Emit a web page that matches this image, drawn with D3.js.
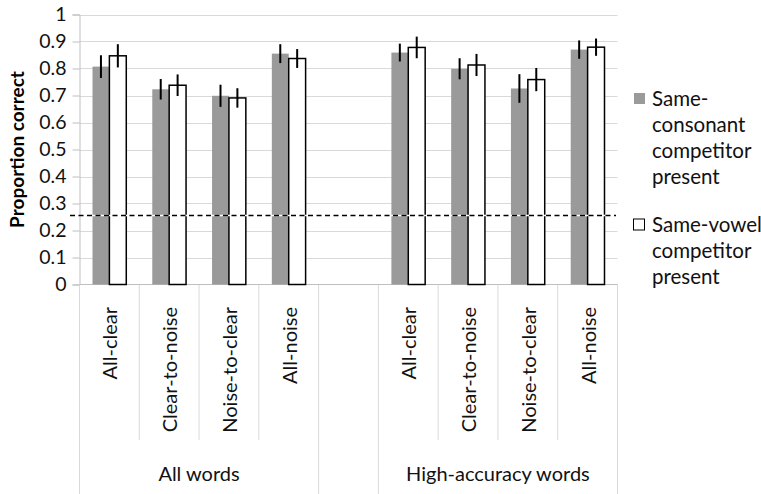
<!DOCTYPE html>
<html>
<head>
<meta charset="utf-8">
<script src="https://cdn.jsdelivr.net/npm/d3@7/dist/d3.min.js"></script>
<style>
  html, body { margin: 0; padding: 0; background: #fff; }
  svg { display: block; font-family: Lato, "Open Sans", sans-serif; }
</style>
</head>
<body>
<svg id="chart" width="761" height="494"></svg>
<script>
// Conditions within each word set
const conditions = ["All-clear", "Clear-to-noise", "Noise-to-clear", "All-noise"];
const wordSets = ["All words", "High-accuracy words"];
const seriesNames = ["Same-consonant competitor present", "Same-vowel competitor present"];

// Proportion correct, ordered as All words (4 conditions) then High-accuracy words (4 conditions)
const consonantMeans = [0.807, 0.723, 0.699, 0.855, 0.859, 0.799, 0.726, 0.870];
const consonantErrors = [0.042, 0.038, 0.041, 0.035, 0.033, 0.039, 0.053, 0.034];
const vowelMeans = [0.847, 0.738, 0.691, 0.837, 0.878, 0.813, 0.759, 0.879];
const vowelErrors = [0.043, 0.040, 0.036, 0.035, 0.040, 0.041, 0.043, 0.032];

// Chance level reference
const chanceLevel = 0.256;

// Y axis ticks
const yTicks = [0, 0.1, 0.2, 0.3, 0.4, 0.5, 0.6, 0.7, 0.8, 0.9, 1];

const svg = d3.select("#chart");
const W = 761, H = 494;
const plot = { left: 79.5, right: 617.5, top: 14.5, bottom: 284.5 };
const textColor = "#111";

// One slot per condition, with an empty slot separating the two word sets
const slots = [];
wordSets.forEach((ws, gi) => {
  if (gi > 0) slots.push({ key: "gap" + gi, gap: true });
  conditions.forEach((c, ci) => slots.push({ key: ws + "|" + c, label: c, group: gi, index: gi * conditions.length + ci }));
});

const x = d3.scaleBand().domain(slots.map(s => s.key)).range([plot.left, plot.right]).padding(0);
const xSeries = d3.scaleBand().domain([0, 1]).range([0, x.bandwidth()]).paddingInner(0).paddingOuter(0.77);
const y = d3.scaleLinear().domain([0, 1]).range([plot.bottom, plot.top]);

const gridColor = "#d9d9d9";
const axisColor = "#bfbfbf";

// Horizontal gridlines
svg.append("g").selectAll("line").data(yTicks.filter(t => t > 0)).join("line")
  .attr("x1", plot.left).attr("x2", plot.right)
  .attr("y1", d => Math.round(y(d)) + 0.5).attr("y2", d => Math.round(y(d)) + 0.5)
  .attr("stroke", gridColor).attr("stroke-width", 1);

// Y axis with outside ticks
const yAxis = d3.axisLeft(y).tickValues(yTicks).tickSize(7).tickPadding(6).tickFormat(d3.format("~g"));
const gy = svg.append("g").attr("transform", `translate(${plot.left},0)`).call(yAxis);
gy.select(".domain").attr("stroke", axisColor);
gy.selectAll(".tick line").attr("stroke", axisColor);
gy.selectAll(".tick text").attr("font-size", 19.5).attr("fill", textColor).attr("font-family", "Lato, sans-serif");

// Category dividers below the baseline
const edges = d3.range(slots.length + 1).map(i => plot.left + i * x.bandwidth());
const groupEdges = new Set([0, conditions.length, conditions.length + 1, slots.length]);
svg.append("g").selectAll("line").data(edges).join("line")
  .attr("x1", d => d).attr("x2", d => d)
  .attr("y1", plot.bottom)
  .attr("y2", (d, i) => groupEdges.has(i) ? H : 440)
  .attr("stroke", gridColor).attr("stroke-width", 1);

// Horizontal axis line
svg.append("line").attr("x1", plot.left).attr("x2", plot.right)
  .attr("y1", plot.bottom).attr("y2", plot.bottom)
  .attr("stroke", axisColor).attr("stroke-width", 1);

const dataSlots = slots.filter(s => !s.gap);
const series = [
  { means: consonantMeans, errors: consonantErrors, fill: "#9a9a9a", stroke: "none" },
  { means: vowelMeans, errors: vowelErrors, fill: "#ffffff", stroke: "#000" }
];

// Bars
series.forEach((s, si) => {
  svg.append("g").selectAll("rect").data(dataSlots).join("rect")
    .attr("x", d => x(d.key) + xSeries(si))
    .attr("width", xSeries.bandwidth())
    .attr("y", d => y(s.means[d.index]))
    .attr("height", d => y(0) - y(s.means[d.index]))
    .attr("fill", s.fill)
    .attr("stroke", s.stroke)
    .attr("stroke-width", 1.5);
});

// Error bars
series.forEach((s, si) => {
  svg.append("g").selectAll("line").data(dataSlots).join("line")
    .attr("x1", d => x(d.key) + xSeries(si) + xSeries.bandwidth() / 2)
    .attr("x2", d => x(d.key) + xSeries(si) + xSeries.bandwidth() / 2)
    .attr("y1", d => y(s.means[d.index] + s.errors[d.index]))
    .attr("y2", d => y(s.means[d.index] - s.errors[d.index]))
    .attr("stroke", "#000").attr("stroke-width", 2);
});

// Chance-level line: black dashes with white gaps
const chanceY = y(chanceLevel);
svg.append("line").attr("x1", 70).attr("x2", 616).attr("y1", chanceY).attr("y2", chanceY)
  .attr("stroke", "#fff").attr("stroke-width", 1.5);
svg.append("line").attr("x1", 70).attr("x2", 616).attr("y1", chanceY).attr("y2", chanceY)
  .attr("stroke", "#000").attr("stroke-width", 1.5).attr("stroke-dasharray", "5,3.5");

// Condition labels (rotated)
svg.append("g").selectAll("text").data(dataSlots).join("text")
  .attr("transform", d => `translate(${x(d.key) + x.bandwidth() / 2 + 1},307) rotate(-90)`)
  .attr("text-anchor", "end").attr("dy", "0.35em")
  .attr("font-size", 20).attr("fill", textColor)
  .text(d => d.label);

// Word-set labels
svg.append("g").selectAll("text").data(wordSets).join("text")
  .attr("x", (d, gi) => {
    const first = slots.find(s => s.group === gi);
    return x(first.key) + x.bandwidth() * conditions.length / 2;
  })
  .attr("y", 481).attr("text-anchor", "middle")
  .attr("font-size", 20).attr("fill", textColor)
  .text(d => d);

// Y axis title
svg.append("text")
  .attr("transform", `translate(17,${(plot.top + plot.bottom) / 2}) rotate(-90)`)
  .attr("text-anchor", "middle").attr("dy", "0.35em")
  .attr("font-size", 19).attr("font-weight", "bold").attr("fill", "#000")
  .text("Proportion correct");

// Legend
const legendLines = [["Same-", "consonant", "competitor", "present"], ["Same-vowel", "competitor", "present"]];
const legendTop = [106, 232];
legendLines.forEach((lines, li) => {
  const g = svg.append("g");
  g.append("rect")
    .attr("x", li === 0 ? 634 : 633.5).attr("y", legendTop[li] - 13)
    .attr("width", 11).attr("height", 11)
    .attr("fill", series[li].fill)
    .attr("stroke", li === 0 ? "none" : "#000").attr("stroke-width", 1);
  g.selectAll("text").data(lines).join("text")
    .attr("x", 652).attr("y", (d, i) => legendTop[li] + i * 26)
    .attr("font-size", 20.5).attr("fill", textColor)
    .text(d => d);
});
</script>
</body>
</html>
